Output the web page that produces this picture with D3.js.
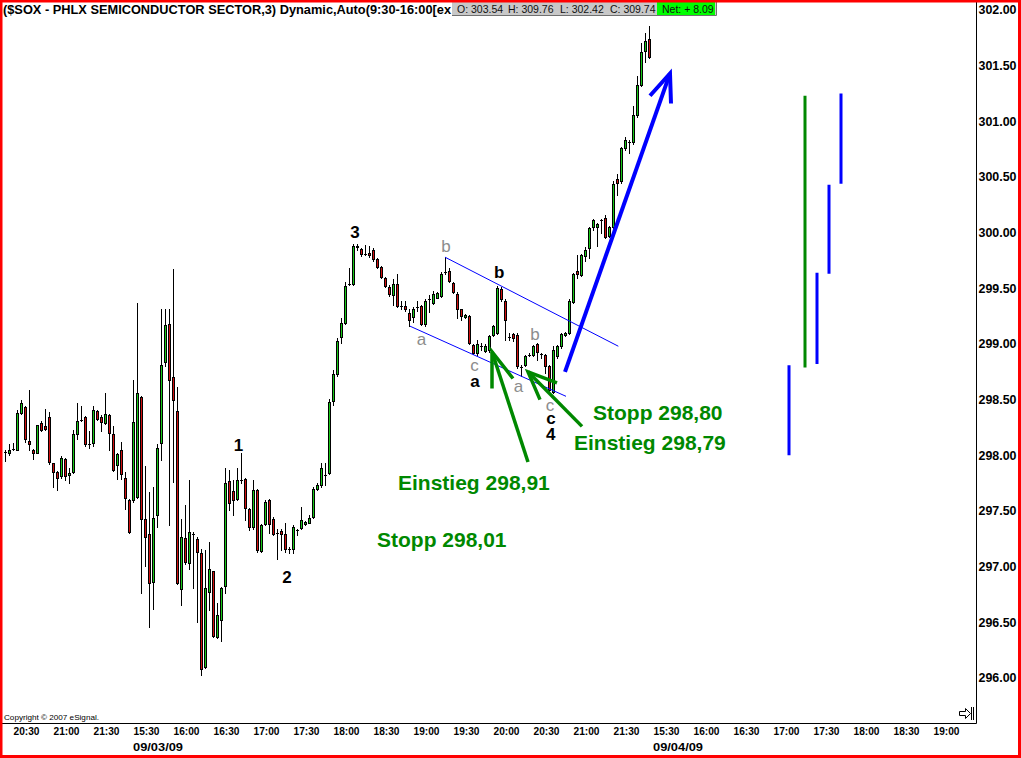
<!DOCTYPE html>
<html><head><meta charset="utf-8">
<script src="https://cdn.jsdelivr.net/npm/d3@7"></script>
<style>
html,body{margin:0;padding:0;background:#fff;}
svg{display:block;}
</style></head><body>
<svg id="c" width="1021" height="758"></svg>
<script>
// ---- data (3-minute bars, index 1..162) ----
const opens=[298.03,298.02,298.06,298.05,298.38,298.43,298.13,298.05,298.02,298.29,298.26,298.34,297.93,297.85,297.81,297.97,297.82,297.85,298.19,298.32,298.34,298.10,298.11,298.40,298.34,298.29,298.36,298.19,297.91,298.05,297.80,297.60,297.60,297.63,298.52,297.43,297.29,296.86,297.46,298.11,298.84,299.18,298.70,298.40,296.80,297.26,297.03,297.29,297.25,297.12,296.10,296.77,296.96,296.37,296.52,296.83,297.77,297.68,297.61,297.78,297.79,297.52,297.36,297.69,297.14,297.38,297.60,297.43,297.30,297.32,297.29,297.16,297.16,297.33,297.35,297.38,297.39,297.45,297.70,297.73,297.82,297.84,298.49,298.73,299.06,299.19,299.54,299.54,299.88,299.85,299.81,299.82,299.84,299.76,299.69,299.59,299.51,299.44,299.54,299.34,299.34,299.28,299.24,299.33,299.34,299.18,299.40,299.37,299.41,299.43,299.65,299.66,299.55,299.45,299.31,299.24,299.25,298.99,298.92,298.98,298.94,298.95,299.08,299.10,299.49,299.39,299.06,299.09,299.08,298.79,298.81,298.90,298.90,299.00,298.91,298.90,298.80,298.57,298.89,298.98,299.08,299.10,299.38,299.66,299.62,299.79,299.86,300.05,300.05,300.11,300.13,299.97,300.05,300.48,300.46,300.76,300.81,300.81,301.06,301.33,301.63,301.74];
const highs=[298.05,298.10,298.11,298.41,298.50,298.44,298.59,298.06,298.27,298.31,298.42,298.39,297.93,297.86,297.99,297.98,297.89,298.23,298.47,298.44,298.35,298.22,298.44,298.41,298.36,298.56,298.37,298.26,298.02,298.12,297.85,297.61,298.68,299.37,298.53,297.90,297.67,297.72,298.10,299.31,299.31,299.31,299.67,298.61,297.43,297.55,297.78,297.31,297.27,297.16,297.15,297.22,296.96,296.67,296.82,297.89,297.87,297.78,297.89,298.02,297.80,297.53,297.78,297.70,297.38,297.60,297.61,297.45,297.34,297.34,297.39,297.18,297.37,297.34,297.54,297.41,297.46,297.72,297.75,297.93,297.93,298.51,298.77,299.05,299.23,299.56,299.68,299.90,299.90,299.86,299.89,299.88,299.86,299.77,299.70,299.60,299.53,299.58,299.63,299.39,299.39,299.31,299.33,299.39,299.35,299.40,299.44,299.48,299.47,299.65,299.78,299.68,299.56,299.47,299.31,299.27,299.26,299.00,299.04,299.01,299.00,299.08,299.17,299.52,299.51,299.40,299.10,299.10,299.10,298.81,298.90,298.92,298.99,299.01,298.92,298.91,298.81,298.98,298.99,299.10,299.11,299.40,299.64,299.80,299.81,299.87,300.05,300.12,300.09,300.12,300.16,300.06,300.46,300.53,300.77,300.86,300.83,301.14,301.41,301.70,301.79,301.86];
const lows=[297.95,298.00,298.05,298.05,298.37,298.12,298.05,297.97,298.02,298.22,298.23,297.92,297.72,297.69,297.80,297.78,297.75,297.84,298.15,298.31,298.08,298.07,298.08,298.32,298.22,298.28,298.05,297.86,297.79,297.79,297.52,297.30,297.58,297.62,296.76,297.01,296.46,296.62,297.36,297.96,298.80,297.37,297.76,296.84,296.66,297.02,296.98,296.81,296.50,296.03,296.09,296.61,296.37,296.36,296.33,296.76,297.51,297.46,297.60,297.75,297.42,297.33,297.34,297.13,297.13,297.37,297.30,297.28,297.07,297.15,297.13,297.12,297.12,297.28,297.34,297.37,297.39,297.44,297.69,297.72,297.73,297.83,298.45,298.71,299.01,299.18,299.53,299.53,299.84,299.79,299.80,299.78,299.75,299.68,299.59,299.51,299.43,299.35,299.33,299.31,299.30,299.16,299.20,299.30,299.17,299.16,299.29,299.36,299.41,299.42,299.63,299.56,299.46,299.23,299.22,299.23,299.00,298.91,298.90,298.95,298.93,298.93,299.07,299.09,299.39,299.04,299.04,299.03,298.78,298.71,298.80,298.89,298.89,298.86,298.87,298.74,298.57,298.56,298.87,298.96,299.07,299.09,299.37,299.59,299.61,299.75,299.77,300.02,299.88,300.00,299.95,299.96,300.04,300.34,300.45,300.74,300.72,300.80,301.04,301.32,301.53,301.57];
const closes=[298.03,298.05,298.06,298.38,298.47,298.15,298.10,298.02,298.27,298.23,298.24,297.94,297.85,297.80,297.98,297.81,297.84,298.19,298.31,298.32,298.10,298.10,298.41,298.33,298.30,298.37,298.20,297.87,298.01,297.83,297.62,297.31,298.30,298.56,297.43,297.27,296.85,297.44,298.07,298.81,299.17,298.68,298.50,296.85,297.27,297.04,297.31,297.29,297.13,296.08,296.81,296.98,296.38,296.57,296.81,297.75,297.57,297.60,297.78,297.78,297.53,297.36,297.69,297.15,297.37,297.58,297.38,297.29,297.30,297.29,297.16,297.16,297.36,297.33,297.42,297.40,297.44,297.70,297.73,297.89,297.82,298.48,298.73,299.03,299.19,299.52,299.54,299.88,299.87,299.81,299.81,299.80,299.76,299.69,299.60,299.52,299.45,299.54,299.34,299.34,299.31,299.22,299.31,299.33,299.18,299.39,299.40,299.45,299.46,299.63,299.65,299.57,299.47,299.31,299.25,299.26,299.01,298.92,299.00,298.98,298.98,299.07,299.16,299.50,299.40,299.22,299.06,299.05,298.80,298.79,298.89,298.90,298.98,298.93,298.91,298.80,298.59,298.95,298.98,299.09,299.10,299.39,299.63,299.63,299.80,299.84,300.04,300.11,300.08,300.11,299.96,300.05,300.44,300.45,300.76,300.83,300.81,301.06,301.33,301.62,301.72,301.58];

const yTicks=[296,296.5,297,297.5,298,298.5,299,299.5,300,300.5,301,301.5,302];
const xTickLabels=["20:30","21:00","21:30","15:30","16:00","16:30","17:00","17:30","18:00","18:30","19:00","19:30","20:00","20:30","21:00","21:30","15:30","16:00","16:30","17:00","17:30","18:00","18:30","19:00"];
const xTickBars=[6,16,26,36,46,56,66,76,86,96,106,116,126,136,146,156,166,176,186,196,206,216,226,236];
const dateLabels=["09/03/09","09/04/09"];
const dateBars=[36,166];

// annotations (bar index, price)
const blackLabels=[["3",88.25,299.95],["1",59.1,298.04],["2",71.25,296.85],["b",124.3,299.59],["a",118.25,298.61],["c",137.25,298.28],["4",137.2,298.14]];
const grayLabels=[["b",111,299.83],["a",104.9,298.99],["c",118.1,298.76],["a",129.1,298.57],["b",133.25,299.04],["c",137,298.40]];
const greenTexts=[["Stopp 298,80",147.75,298.32],["Einstieg 298,79",143,298.05],["Einstieg 298,91",99,297.69],["Stopp 298,01",93.75,297.18]];
const channelLines=[[[110.75,299.78],[154.08,298.98]],[[102,299.16],[141,298.53]]];
const greenArrows=[
  [[[131.5,297.94],[122.5,298.93]],[[122.5,298.60],[122.5,298.93],[127.75,298.69]]],
  [[[145,298.26],[131.5,298.75]],[[138.75,298.65],[131.5,298.75],[134.5,298.50]]]
];
const blueArrow=[[[140.75,298.75],[167,301.43]],[[162,301.23],[167,301.43],[167.25,301.16]]];
const blueSegments=[[196.75,298.00,298.81],[203.75,298.82,299.64],[206.75,299.63,300.43],[209.75,300.44,301.25]];
const greenSegments=[[200.75,298.79,301.23]];

const headerText="($SOX - PHLX SEMICONDUCTOR SECTOR,3) Dynamic,Auto(9:30-16:00[ex";
const quoteItems=["O: 303.54","H: 309.76","L: 302.42","C: 309.74"];
const netText="Net: + 8.09";

// ---- drawing ----
const FONT='"Liberation Sans", Arial, sans-serif';
const svg=d3.select("#c");
const W=1021,H=758, PR=976.5, PB=723.5;
const x=d3.scaleLinear().domain([0,250]).range([2,1002]);
const y=d3.scaleLinear().domain([296,302]).range([678,10]);

svg.append("rect").attr("width",W).attr("height",H).attr("fill","#fff");
svg.append("defs").append("clipPath").attr("id","plot").append("rect").attr("x",2).attr("y",2).attr("width",PR-2).attr("height",PB-2);

const bars=opens.map((o,i)=>({k:i+1,o,h:highs[i],l:lows[i],c:closes[i]}));
const gBars=svg.append("g").attr("clip-path","url(#plot)");
bars.forEach(b=>{
  const px=Math.round(x(b.k));
  const cx=px-0.5;
  gBars.append("line").attr("x1",cx).attr("x2",cx).attr("y1",Math.round(y(b.h))).attr("y2",Math.round(y(b.l))+1).attr("stroke","#000").attr("stroke-width",1);
  const top=Math.round(y(Math.max(b.o,b.c))), bot=Math.round(y(Math.min(b.o,b.c)));
  const hgt=Math.max(1,bot-top+1);
  gBars.append("rect").attr("x",px-2).attr("y",top).attr("width",3).attr("height",hgt).attr("fill","#000");
  if(hgt>2){
    gBars.append("rect").attr("x",px-1).attr("y",top+1).attr("width",1).attr("height",hgt-2).attr("fill",b.c>=b.o?"#18c818":"#d01010");
  }
});

// annotations
const ga=svg.append("g").attr("clip-path","url(#plot)");
const line=d3.line().x(d=>x(d[0])).y(d=>y(d[1]));
channelLines.forEach(l=>ga.append("path").attr("d",line(l)).attr("stroke","#0000ff").attr("stroke-width",1).attr("fill","none"));
greenArrows.forEach(a=>a.forEach(seg=>ga.append("path").attr("d",line(seg)).attr("stroke","#008800").attr("stroke-width",3.5).attr("fill","none").attr("stroke-linejoin","miter")));
blueArrow.forEach(seg=>ga.append("path").attr("d",line(seg)).attr("stroke","#0000ff").attr("stroke-width",4).attr("fill","none"));
blueSegments.forEach(s=>ga.append("line").attr("x1",x(s[0])).attr("x2",x(s[0])).attr("y1",y(s[1])).attr("y2",y(s[2])).attr("stroke","#0000ff").attr("stroke-width",3));
greenSegments.forEach(s=>ga.append("line").attr("x1",x(s[0])).attr("x2",x(s[0])).attr("y1",y(s[1])).attr("y2",y(s[2])).attr("stroke","#008800").attr("stroke-width",3));

blackLabels.forEach(t=>ga.append("text").attr("x",x(t[1])).attr("y",y(t[2])).attr("text-anchor","middle").attr("font-family",FONT).attr("font-size",17).attr("font-weight","bold").attr("fill","#000").text(t[0]));
grayLabels.forEach(t=>ga.append("text").attr("x",x(t[1])).attr("y",y(t[2])).attr("text-anchor","middle").attr("font-family",FONT).attr("font-size",17).attr("fill","#8c8c8c").text(t[0]));
greenTexts.forEach(t=>ga.append("text").attr("x",x(t[1])).attr("y",y(t[2])).attr("font-family",FONT).attr("font-size",21).attr("font-weight","bold").attr("fill","#008800").text(t[0]));

// axes
const yAxis=d3.axisRight(y).tickValues(yTicks).tickFormat(d3.format(".2f")).tickSize(0).tickPadding(2);
const gy=svg.append("g").attr("transform",`translate(${PR},0)`).call(yAxis);
gy.select(".domain").remove();
gy.attr("font-family",FONT).attr("font-size",12);
gy.selectAll("text").attr("fill","#000").attr("font-weight","bold").attr("textLength",38).attr("lengthAdjust","spacingAndGlyphs");

const xAxis=d3.axisBottom(x).tickValues(xTickBars).tickFormat((d,i)=>xTickLabels[i]).tickSize(0).tickPadding(4);
const gx=svg.append("g").attr("transform",`translate(0,${PB})`).call(xAxis);
gx.select(".domain").remove();
gx.attr("font-family",FONT).attr("font-size",11);
gx.selectAll("text").attr("fill","#000").attr("font-weight","bold").attr("textLength",26).attr("lengthAdjust","spacingAndGlyphs");
dateLabels.forEach((d,i)=>svg.append("text").attr("x",x(dateBars[i])-13).attr("y",751).attr("font-family",FONT).attr("font-size",11).attr("font-weight","bold").attr("textLength",50).attr("lengthAdjust","spacingAndGlyphs").text(d));

// frame
svg.append("line").attr("x1",PR).attr("x2",PR).attr("y1",0).attr("y2",PB).attr("stroke","#000");
svg.append("line").attr("x1",0).attr("x2",PR).attr("y1",PB).attr("y2",PB).attr("stroke","#000");

// copyright + icon
svg.append("text").attr("x",4).attr("y",720).attr("font-family",FONT).attr("font-size",8).attr("textLength",95).attr("lengthAdjust","spacingAndGlyphs").text("Copyright © 2007 eSignal.");
svg.append("path").attr("d","M959.5,711.5H965.5V708.5L970.5,713.5L965.5,718.5V715.5H959.5Z").attr("fill","#fff").attr("stroke","#000");
svg.append("path").attr("d","M971.5,707V720M973.5,707V720").attr("stroke","#000");

// header
svg.append("text").attr("x",3).attr("y",13.5).attr("font-family",FONT).attr("font-size",13).attr("font-weight","bold").attr("textLength",448).attr("lengthAdjust","spacingAndGlyphs").text(headerText);
svg.append("rect").attr("x",452).attr("y",2).attr("width",264).attr("height",13).attr("fill","#c8c8c8");
svg.append("rect").attr("x",657).attr("y",2).attr("width",58).attr("height",13).attr("fill","#00ff00");
svg.append("path").attr("d","M452,15.5H716.5V2").attr("stroke","#707070").attr("fill","none");
const qx=[457,508,560,610];
quoteItems.forEach((q,i)=>svg.append("text").attr("x",qx[i]).attr("y",12.5).attr("font-family",FONT).attr("font-size",10.5).attr("fill","#111").text(q));
svg.append("text").attr("x",662).attr("y",12.5).attr("font-family",FONT).attr("font-size",10.5).attr("fill","#111").text(netText);

// outer red border
svg.append("rect").attr("x",1).attr("y",1).attr("width",W-2.5).attr("height",H-2.5).attr("fill","none").attr("stroke","#ff0000").attr("stroke-width",3);
</script>
</body></html>
